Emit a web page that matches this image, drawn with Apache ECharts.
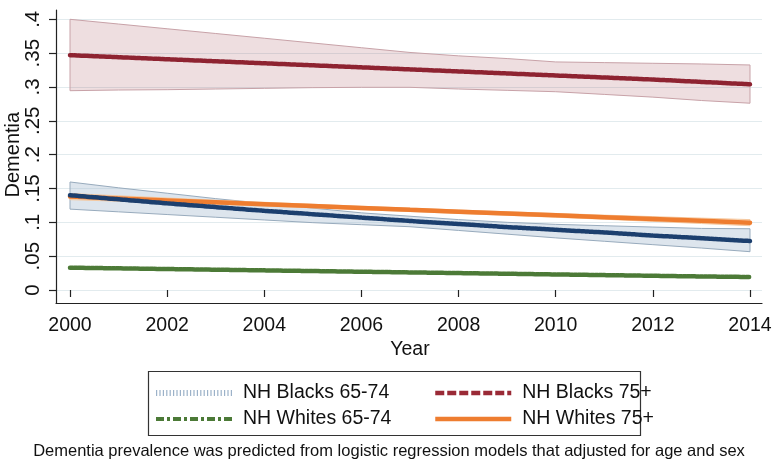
<!DOCTYPE html>
<html><head><meta charset="utf-8">
<script src="https://cdn.jsdelivr.net/npm/echarts@6/dist/echarts.min.js"></script>
<style>html,body{margin:0;padding:0;background:#fff}#c{width:778px;height:468px}</style>
</head><body><div id="c"></div>
<script>
const years = [2000,2001,2002,2003,2004,2005,2006,2007,2008,2009,2010,2011,2012,2013,2014];
const yTicks = [0,0.05,0.1,0.15,0.2,0.25,0.3,0.35,0.4];
const xTicks = [2000,2002,2004,2006,2008,2010,2012,2014];

const blk75   = [.347,.344,.341,.338,.335,.332,.329,.326,.323,.320,.317,.314,.311,.3075,.304];
const blk75Hi = [.400,.393,.386,.379,.372,.365,.358,.351,.346,.342,.337,.336,.335,.334,.3325];
const blk75Lo = [.2945,.2955,.296,.297,.298,.299,.2995,.2995,.297,.295,.293,.289,.285,.280,.276];

const blk65   = [.140,.134,.128,.1225,.117,.112,.107,.102,.0975,.093,.089,.085,.0805,.0765,.0724];
const blk65Hi = [.1596,.151,.143,.135,.128,.121,.114,.109,.104,.100,.097,.095,.093,.091,.0905];
const blk65Lo = [.1195,.1155,.1115,.1075,.1035,.0995,.0965,.0935,.088,.0825,.077,.072,.067,.062,.0566];

const wht75   = [.138,.1352,.1324,.1296,.1268,.124,.1212,.1184,.1157,.113,.1103,.1076,.1049,.1022,.0995];
const wht75Hi = [.1425,.1392,.1359,.1326,.1296,.1266,.1237,.1209,.1182,.1156,.1131,.1106,.1084,.1062,.104];
const wht75Lo = [.1335,.1312,.1289,.1266,.124,.1214,.1187,.1159,.1132,.1104,.1075,.1046,.1014,.0982,.095];

const wht65   = [.033,.032,.031,.030,.029,.028,.027,.026,.025,.024,.023,.022,.021,.020,.0192];

const seriesNames = ['NH Blacks 65-74','NH Blacks 75+','NH Whites 65-74','NH Whites 75+'];
const yLabel = 'Dementia';
const xLabel = 'Year';
const caption = 'Dementia prevalence was predicted from logistic regression models that adjusted for age and sex';

const FONT = '"Liberation Sans", Arial, Helvetica, sans-serif';
const pts = a => years.map((y,i)=>[y,a[i]]);
function fmt(v){ if (Math.abs(v)<1e-9) return '0'; let s = (+v.toFixed(2)).toString(); return s.replace(/^0\./,'.'); }

function band(lo, hi, fill, stroke, z){
  return {type:'custom', xAxisIndex:0, yAxisIndex:0, silent:true, z:z, data:[[2000,0]],
    renderItem:(p, api)=>{
      const P=[];
      years.forEach((y,i)=>P.push(api.coord([y,hi[i]])));
      for(let i=years.length-1;i>=0;i--) P.push(api.coord([years[i],lo[i]]));
      return {type:'polygon', shape:{points:P}, style:{fill:fill, stroke:stroke, lineWidth:1}};
    }};
}
function line(name, data, color, type, z){
  return {type:'line', name:name, xAxisIndex:0, yAxisIndex:0, data:pts(data), symbol:'none', z:z, silent:true,
    lineStyle:{color:color, width:4.5, type:type, cap:'round'}, itemStyle:{color:color}};
}
const hideSym = {opacity:0};

const chart = echarts.init(document.getElementById('c'), null, {renderer:'canvas'});
chart.setOption({
  backgroundColor:'#fff',
  animation:false,
  textStyle:{fontFamily:FONT},
  title:{text:caption, left:'center', top:443, padding:0, textStyle:{fontFamily:FONT, fontSize:16.5, fontWeight:'normal', color:'#111'}},
  grid:[
    {left:70, right:28, top:19.3, bottom:178, containLabel:false, outerBoundsMode:'none'},
    {left:56, right:16, top:19.3, bottom:178, containLabel:false, outerBoundsMode:'none'},
    {left:56, right:16, top:10, bottom:165, containLabel:false, outerBoundsMode:'none'}
  ],
  xAxis:[
    {gridIndex:0, type:'value', min:2000, max:2014, interval:2, offset:13,
     axisLine:{show:false}, axisTick:{show:true, length:7, lineStyle:{color:'#222', width:1.2}},
     axisLabel:{fontSize:19.5, color:'#111', margin:13, fontFamily:FONT, formatter:v=>String(v)},
     splitLine:{show:false},
     name:xLabel, nameLocation:'middle', nameGap:37, nameMoveOverlap:false,
     nameTextStyle:{fontSize:19.5, color:'#111', fontFamily:FONT}},
    {gridIndex:1, type:'value', min:0, max:1, show:false},
    {gridIndex:2, type:'value', min:0, max:1, axisLine:{show:true, onZero:false, lineStyle:{color:'#222', width:1.2}},
     axisTick:{show:false}, axisLabel:{show:false}, splitLine:{show:false}}
  ],
  yAxis:[
    {gridIndex:0, type:'value', min:0, max:0.4, show:false},
    {gridIndex:1, type:'value', min:0, max:0.4, interval:0.05,
     axisLine:{show:true, onZero:false, lineStyle:{color:'rgba(0,0,0,0)', width:1}},
     axisTick:{show:true, length:7, lineStyle:{color:'#222', width:1.2}},
     axisLabel:{fontSize:20.5, color:'#111', rotate:90, margin:12, fontFamily:FONT, formatter:fmt},
     splitLine:{show:true, lineStyle:{color:'#e2ebee', width:1}},
     name:yLabel, nameLocation:'middle', nameGap:33, nameMoveOverlap:false,
     nameTextStyle:{fontSize:20, color:'#111', fontFamily:FONT}},
    {gridIndex:2, type:'value', min:0, max:1, axisLine:{show:true, onZero:false, lineStyle:{color:'#222', width:1.2}},
     axisTick:{show:false}, axisLabel:{show:false}, splitLine:{show:false}}
  ],
  legend:[
    {left:153, top:383, padding:0, orient:'vertical', itemWidth:76, itemHeight:10, itemGap:6,
     textStyle:{fontSize:19.5, color:'#111', fontFamily:FONT, lineHeight:20, padding:[0,0,0,6]},
     data:[
       {name:seriesNames[0], itemStyle:hideSym, lineStyle:{color:'#9cb2c9', width:6, type:[1.2,2.2], cap:'butt'}},
       {name:seriesNames[2], itemStyle:hideSym, lineStyle:{color:'#4c7a37', width:4, type:[8,3,3,3], cap:'butt'}}
     ]},
    {left:433, top:383, padding:0, orient:'vertical', itemWidth:76, itemHeight:10, itemGap:6,
     textStyle:{fontSize:19.5, color:'#111', fontFamily:FONT, lineHeight:20, padding:[0,0,0,6]},
     data:[
       {name:seriesNames[1], itemStyle:hideSym, lineStyle:{color:'#9a2a36', width:4.5, type:[9,3], cap:'butt'}},
       {name:seriesNames[3], itemStyle:hideSym, lineStyle:{color:'#ee7d30', width:4.5, type:'solid', cap:'butt'}}
     ]}
  ],
  graphic:[
    {type:'rect', left:146, top:369, shape:{width:492, height:64}, style:{fill:'none', stroke:'#333', lineWidth:1.2}, silent:true}
  ],
  series:[
    band(blk75Lo, blk75Hi, 'rgba(160,70,85,0.18)', '#c8a2a8', 1),
    band(blk65Lo, blk65Hi, 'rgba(170,190,210,0.40)', '#98abbd', 1),
    band(wht75Lo, wht75Hi, 'rgba(248,190,140,0.45)', '#f5c9a0', 1),
    line(seriesNames[2], wht65, '#4c7a37', [3,1.2], 3),
    line(seriesNames[1], blk75, '#8e2331', [3,1.2], 3),
    line(seriesNames[3], wht75, '#ee7d30', 'solid', 3),
    line(seriesNames[0], blk65, '#1c3f6e', [3,1.2], 4)
  ]
});
</script></body></html>
